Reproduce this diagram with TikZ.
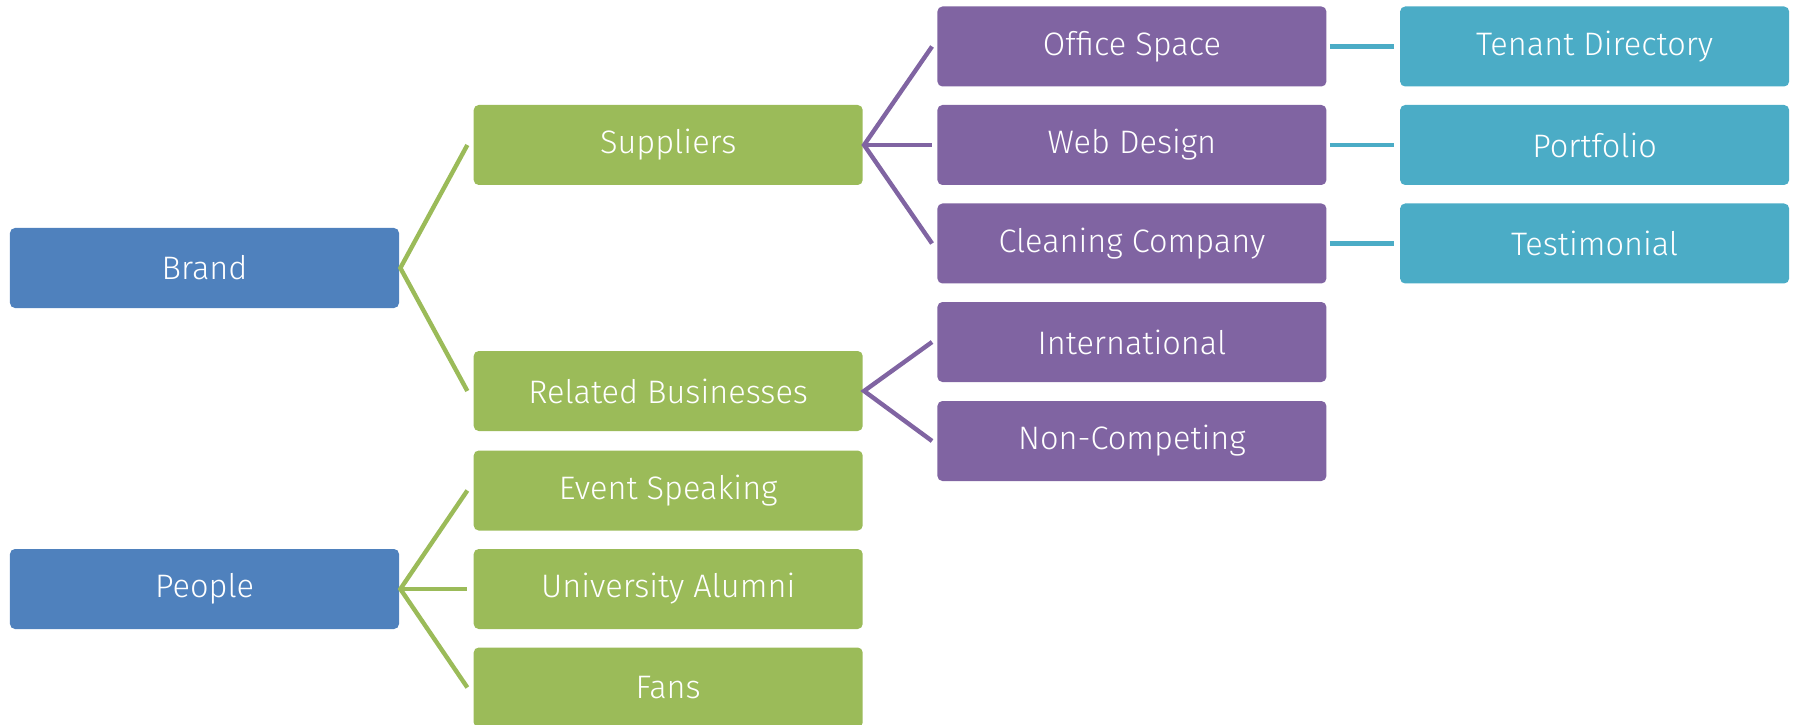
\documentclass[tikz,border=0pt]{standalone}
\usepackage{fontspec}
\setmainfont{Fira Sans Light}
\usepackage{xcolor}
\usepackage{tikz}
\usetikzlibrary{positioning}

\definecolor{brandblue}{HTML}{4F81BD}
\definecolor{leafgreen}{HTML}{9BBB59}
\definecolor{plum}{HTML}{8064A2}
\definecolor{aqua}{HTML}{4BACC6}

\begin{document}
\begin{tikzpicture}[
    node distance=1.48cm,
    card/.style={rectangle, rounded corners=0.1cm, text=white, minimum width=7.78cm, minimum height=1.6cm, inner sep=0pt, font=\fontsize{18.5}{22}\selectfont},
    bluecard/.style={card, fill=brandblue},
    greencard/.style={card, fill=leafgreen},
    plumcard/.style={card, fill=plum},
    aquacard/.style={card, fill=aqua},
    link/.style={line width=2.5pt}
]
    \useasboundingbox (0,0) rectangle (35.92,-14.5);

    \node[bluecard] (brand) at (4.09,-5.36) {Brand};
    \node[bluecard] (people) at (4.09,-11.78) {People};

    \node[greencard, right=of brand, yshift=2.46cm] (suppliers) {Suppliers};
    \node[greencard, right=of brand, yshift=-2.46cm] (related) {Related Businesses};
    \node[greencard, right=of people, yshift=1.97cm] (event) {Event Speaking};
    \node[greencard, right=of people] (alumni) {University Alumni};
    \node[greencard, right=of people, yshift=-1.97cm] (fans) {Fans};

    \node[plumcard, right=of suppliers, yshift=1.97cm] (office) {Office Space};
    \node[plumcard, right=of suppliers] (web) {Web Design};
    \node[plumcard, right=of suppliers, yshift=-1.97cm] (cleaning) {Cleaning Company};
    \node[plumcard, right=of related, yshift=0.98cm] (intl) {International};
    \node[plumcard, right=of related, yshift=-1.0cm] (noncomp) {Non-Competing};

    \node[aquacard, right=1.46cm of office] (tenant) {Tenant Directory};
    \node[aquacard, right=1.46cm of web] (portfolio) {Portfolio};
    \node[aquacard, right=1.46cm of cleaning] (testimonial) {Testimonial};

    % brand and people forks
    \draw[link, leafgreen] ([xshift=-0.12cm]suppliers.west) -- ([xshift=0.02cm]brand.east) -- ([xshift=-0.12cm]related.west);
    \draw[link, leafgreen] ([xshift=-0.12cm]event.west) -- ([xshift=0.02cm]people.east) -- ([xshift=-0.12cm]fans.west);
    \draw[link, leafgreen] ([xshift=0.02cm]people.east) -- ([xshift=-0.12cm]alumni.west);

    % supplier and related forks
    \draw[link, plum] ([xshift=-0.1cm]office.west) -- ([xshift=0.02cm]suppliers.east) -- ([xshift=-0.1cm]cleaning.west);
    \draw[link, plum] ([xshift=0.02cm]suppliers.east) -- ([xshift=-0.1cm]web.west);
    \draw[link, plum] ([xshift=-0.1cm]intl.west) -- ([xshift=0.02cm]related.east) -- ([xshift=-0.1cm]noncomp.west);

    % last column
    \draw[link, aqua] ([xshift=0.06cm]office.east) -- ([xshift=-0.12cm]tenant.west);
    \draw[link, aqua] ([xshift=0.06cm]web.east) -- ([xshift=-0.12cm]portfolio.west);
    \draw[link, aqua] ([xshift=0.06cm]cleaning.east) -- ([xshift=-0.12cm]testimonial.west);
\end{tikzpicture}
\end{document}
